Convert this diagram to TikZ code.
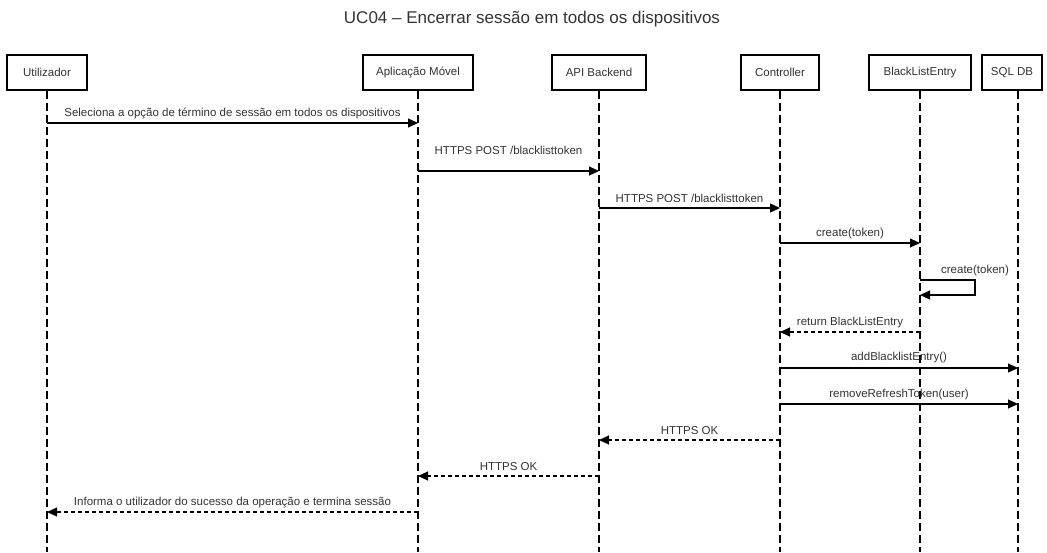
\documentclass[tikz,border=0pt]{standalone}
\usepackage{fontspec}
\setmainfont{Liberation Sans}
\usetikzlibrary{arrows.meta}
\definecolor{txt}{HTML}{333333}
\begin{document}
\begin{tikzpicture}[x=1pt,y=-1pt,
  actor/.style={draw=black,line width=1.8pt,minimum height=35pt,inner sep=0pt,
    font=\fontsize{11.5}{13}\selectfont,text=txt},
  lifeline/.style={line width=1.2pt,dash pattern=on 8pt off 4pt},
  msg/.style={line width=1.1pt,-{Triangle[length=10pt,width=9pt]}},
  reply/.style={msg,dash pattern=on 4pt off 3pt},
  lbl/.style={font=\fontsize{11.5}{13}\selectfont,text=txt,inner sep=0pt}]
\useasboundingbox (0,0) rectangle (1047,552);
\clip (0,0) rectangle (1047,552);

% title
\node[font=\fontsize{17}{20}\selectfont,text=txt] (title) at (532,19) {UC04 – Encerrar sessão em todos os dispositivos};

% participants
\node[actor,minimum width=80pt]  (u)   at (47,72.5)   {Utilizador};
\node[actor,minimum width=110pt] (app) at (418,72.5)  {Aplicação Móvel};
\node[actor,minimum width=94pt]  (api) at (599,72.5)  {API Backend};
\node[actor,minimum width=78pt]  (ctl) at (780,72.5)  {Controller};
\node[actor,minimum width=102pt] (ble) at (920,72.5)  {BlackListEntry};
\node[actor,minimum width=60pt]  (sql) at (1012,72.5) {SQL DB};

% lifelines
\coordinate (uT)   at (u.south);
\coordinate (appT) at (app.south);
\coordinate (apiT) at (api.south);
\coordinate (ctlT) at (ctl.south);
\coordinate (bleT) at (ble.south);
\coordinate (sqlT) at ([xshift=6pt]sql.south);
\coordinate (bottom) at (0,552);
\foreach \l in {uT,appT,apiT,ctlT,bleT,sqlT}
  \draw[lifeline] (\l) -- (\l |- bottom);

% message rows
\coordinate (r1)  at (0,123);
\coordinate (r2)  at (0,171);
\coordinate (r3)  at (0,208);
\coordinate (r4)  at (0,243);
\coordinate (r5a) at (0,280);
\coordinate (r5b) at (0,295);
\coordinate (r6)  at (0,332);
\coordinate (r7)  at (0,368);
\coordinate (r8)  at (0,404);
\coordinate (r9)  at (0,440);
\coordinate (r10) at (0,476);
\coordinate (r11) at (0,512);
\coordinate (selfR) at (975,0);

\draw[msg] (uT |- r1) -- (appT |- r1)
  node[lbl,midway,yshift=10pt] {Seleciona a opção de término de sessão em todos os dispositivos};
\draw[msg] (appT |- r2) -- (apiT |- r2)
  node[lbl,midway,yshift=21pt] {HTTPS POST /blacklisttoken};
\draw[msg] (apiT |- r3) -- (ctlT |- r3)
  node[lbl,midway,yshift=10pt] {HTTPS POST /blacklisttoken};
\draw[msg] (ctlT |- r4) -- (bleT |- r4)
  node[lbl,midway,yshift=9pt] {create(token)};
\draw[msg] (bleT |- r5a) -- (selfR |- r5a)
  node[lbl,pos=1,yshift=9pt] {create(token)}
  -- (selfR |- r5b) -- (bleT |- r5b);
\draw[reply] (bleT |- r6) -- (ctlT |- r6)
  node[lbl,midway,yshift=9pt] {return BlackListEntry};
\draw[msg] (ctlT |- r7) -- (sqlT |- r7)
  node[lbl,midway,yshift=10pt] {addBlacklistEntry()};
\draw[msg] (ctlT |- r8) -- (sqlT |- r8)
  node[lbl,midway,yshift=9pt] {removeRefreshToken(user)};
\draw[reply] (ctlT |- r9) -- (apiT |- r9)
  node[lbl,midway,yshift=9pt] {HTTPS OK};
\draw[reply] (apiT |- r10) -- (appT |- r10)
  node[lbl,midway,yshift=9pt] {HTTPS OK};
\draw[reply] (appT |- r11) -- (uT |- r11)
  node[lbl,midway,yshift=9pt] {Informa o utilizador do sucesso da operação e termina sessão};
\end{tikzpicture}
\end{document}
